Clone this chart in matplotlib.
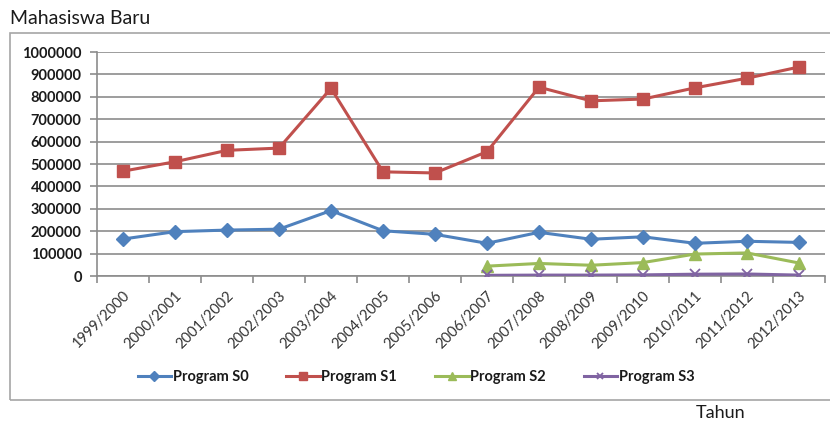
import matplotlib
matplotlib.use("Agg")
import matplotlib.pyplot as plt
from matplotlib.patches import Rectangle

plt.rcParams['font.family'] = ['Lato', 'DejaVu Sans']

# ---------------- data ----------------
years = ["1999/2000", "2000/2001", "2001/2002", "2002/2003", "2003/2004",
         "2004/2005", "2005/2006", "2006/2007", "2007/2008", "2008/2009",
         "2009/2010", "2010/2011", "2011/2012", "2012/2013"]
s0 = [165000, 198000, 205000, 209000, 292000, 202000, 186000,
      146000, 195000, 164000, 175000, 146000, 155000, 150000]
s1 = [468000, 510000, 561000, 571000, 838000, 465000, 460000,
      555000, 843000, 782000, 790000, 840000, 883000, 933000]
# S2 and S3 only start in 2006/2007
s2 = [44000, 56000, 48000, 60000, 98000, 103000, 58000]
s3 = [3000, 4000, 4000, 5000, 8000, 9000, 4000]
yticks = list(range(0, 1000001, 100000))

fig = plt.figure(figsize=(8.3, 4.23), dpi=100)
ax = fig.add_axes([97/830, 1-276/423, 728/830, 224/423])

x = list(range(len(years)))
x2 = x[7:]
ax.plot(x, s0, color="#4F81BD", lw=2.2, marker="D", ms=7, label="Program S0", zorder=4)
ax.plot(x, s1, color="#C0504D", lw=2.2, marker="s", ms=8.5, label="Program S1", zorder=3)
ax.plot(x2, s2, color="#9BBB59", lw=2.2, marker="^", ms=8, label="Program S2", zorder=3)
ax.plot(x2, s3, color="#8064A2", lw=2.2, marker="x", ms=7, mew=1.3, label="Program S3", zorder=3)

ax.set_xlim(-0.5, len(years) - 0.5)
ax.set_ylim(0, 1000000)
ax.set_yticks(yticks)
ax.set_yticklabels([str(v) for v in yticks], fontsize=10.5, fontweight="bold", color="#1a1a1a")
ax.yaxis.grid(True, color="#8c8c8c", lw=1.2)
ax.set_axisbelow(True)

# category ticks sit between points, labels at the points
ax.set_xticks([i - 0.5 for i in range(len(years) + 1)])
ax.set_xticklabels([])
ax.set_xticks(x, minor=True)
ax.set_xticklabels(years, minor=True, rotation=45, ha="right", va="top",
                   rotation_mode="anchor", fontsize=10.5, color="#333333")
ax.tick_params(axis="x", which="major", length=5, color="#8c8c8c", width=1.2)
ax.tick_params(axis="x", which="minor", length=0, pad=9)
ax.tick_params(axis="y", length=5, color="#8c8c8c", width=1.2, pad=6)

for s in ["top", "right"]:
    ax.spines[s].set_visible(False)
for s in ["left", "bottom"]:
    ax.spines[s].set_color("#8c8c8c")
    ax.spines[s].set_linewidth(1.2)

leg = fig.legend(loc="center", bbox_to_anchor=(416/830, 1-377/423), ncol=4,
                 frameon=False, fontsize=10.5, handlelength=2.3, handletextpad=0.1,
                 columnspacing=2.6, markerscale=0.7)
for t in leg.get_texts():
    t.set_fontweight("bold")
    t.set_color("#1a1a1a")

# outer chart border
fig.patches.append(Rectangle((10/830, 1-400/423), 830/830, 367/423, transform=fig.transFigure,
                             fill=False, edgecolor="#a6a6a6", lw=1.2))

fig.text(10/830, 1-19/423, "Mahasiswa Baru", fontsize=14, va="center", ha="left", color="#1a1a1a")
fig.text(721/830, 1-413/423, "Tahun", fontsize=13, va="center", ha="center", color="#1a1a1a")

fig.savefig("out.png", dpi=100)
